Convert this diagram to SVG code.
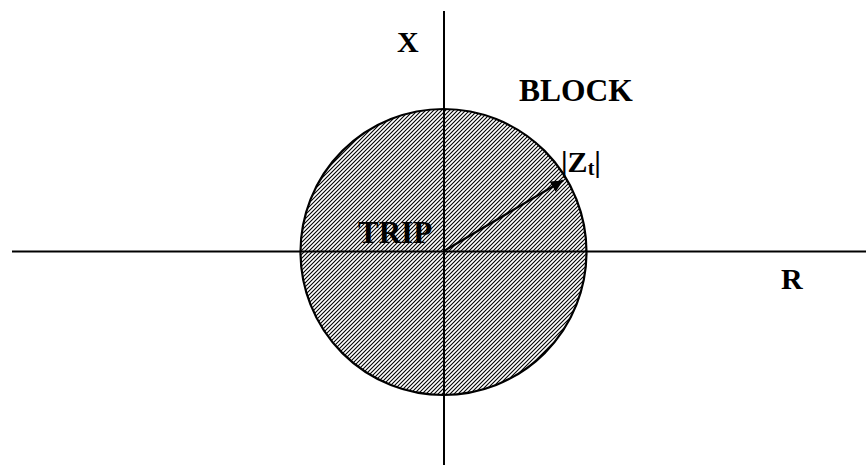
<svg xmlns="http://www.w3.org/2000/svg" width="868" height="465" viewBox="0 0 868 465">
<style>
.t{font-family:"Liberation Serif","Times New Roman",serif;font-weight:bold;fill:#000}
.ax{stroke:#000;stroke-width:2;fill:none}
</style>
<defs>
<pattern id="hatch" patternUnits="userSpaceOnUse" width="4" height="4">
<rect width="4" height="4" fill="#fff"/>
<path d="M-1,1 L1,-1 M0,4 L4,0 M3,5 L5,3" stroke="#000" stroke-width="1.1"/>
</pattern>
<marker id="ah" viewBox="0 0 10 10" refX="10" refY="5" markerWidth="18" markerHeight="12" markerUnits="userSpaceOnUse" orient="auto">
<path d="M0,0 L10,5 L0,10 Z" fill="#000"/>
</marker>
</defs>
<g id="region">
<circle cx="443.5" cy="252" r="143" fill="url(#hatch)" stroke="#000" stroke-width="2.2"/>
</g>
<g id="axes">
<line class="ax" x1="12" y1="251.5" x2="866" y2="251.5"/>
<line class="ax" x1="444" y1="11" x2="444" y2="465"/>
</g>
<g id="connectors">
<line x1="444" y1="251" x2="563" y2="180.5" stroke="#000" stroke-width="2.2" marker-end="url(#ah)"/>
</g>
<g id="labels">
<text class="t" x="397" y="52" font-size="30">X</text>
<text class="t" x="519" y="101" font-size="31.5">BLOCK</text>
<text class="t" x="358" y="243" font-size="31">TRIP</text>
<text class="t" x="781" y="289" font-size="30">R</text>
<text class="t" x="561" y="172" font-size="30">|Z<tspan font-size="20" dy="3">t</tspan><tspan dy="-3">|</tspan></text>
</g>
</svg>
